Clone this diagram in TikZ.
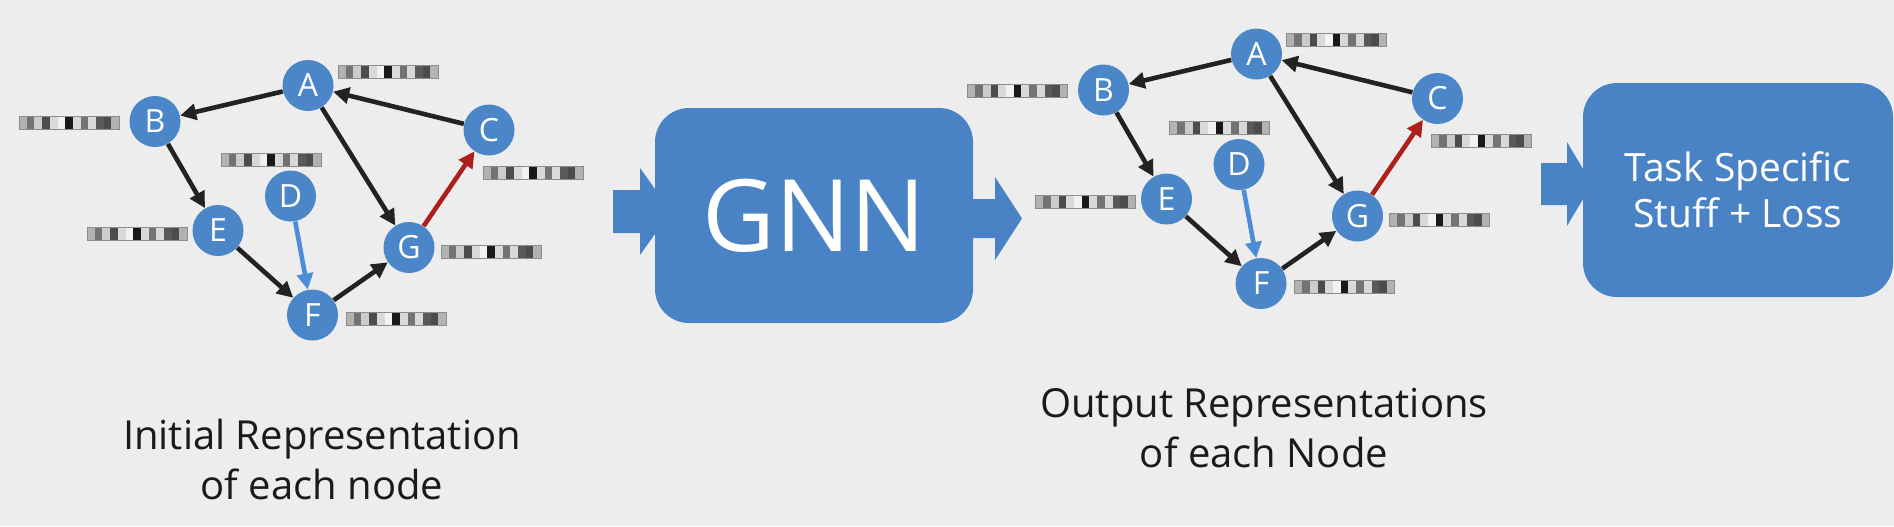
\documentclass[tikz,border=0pt]{standalone}
\usepackage{fontspec}
\setmainfont{Open Sans}
\usetikzlibrary{arrows.meta}
\definecolor{bg}{HTML}{EDEDED}
\definecolor{nodeblue}{HTML}{4A86C8}
\definecolor{boxblue}{HTML}{4A82C6}
\definecolor{edgeblue}{HTML}{4B8DD6}
\definecolor{edgered}{HTML}{AC1F1A}
\definecolor{edgeblack}{HTML}{222222}
\definecolor{captext}{HTML}{1A1A1A}
\tikzset{
  gnode/.style={circle, fill=nodeblue, text=white, minimum size=25.5pt, inner sep=0pt, font=\fontsize{16}{16}\selectfont},
  edge/.style={line width=2.3pt, draw=edgeblack, -{Triangle[length=8pt,width=8pt]}},
  blueedge/.style={edge, draw=edgeblue},
  rededge/.style={edge, draw=edgered},
  blockbox/.style={rectangle, rounded corners=17pt, fill=boxblue, text=white, inner sep=0pt, align=center},
  blockarrow/.style={fill=boxblue},
  caption/.style={align=center, font=\fontsize{20}{25}\selectfont, text=captext},
  pics/fvec/.style={code={
    \foreach \g [count=\i from 0] in {30,55,20,70,15,5,90,15,55,15,65,70,30}
      {\fill[black!\g] (\i*7.7,0) rectangle ++(7.7,13);}
    \draw[black!45, line width=0.5pt] (0,0) rectangle (100.1,13);
  }}
}
\newcommand\gnngraph[1]{%
  \node[gnode] (#1A) at (308,85.5) {A};
  \node[gnode] (#1B) at (155,121.5) {B};
  \node[gnode] (#1C) at (489,130) {C};
  \node[gnode] (#1D) at (290.5,196) {D};
  \node[gnode] (#1E) at (218,230.5) {E};
  \node[gnode] (#1F) at (312.5,315) {F};
  \node[gnode] (#1G) at (409,247.5) {G};
  \draw[edge] (#1A) -- (#1B);
  \draw[edge] (#1C) -- (#1A);
  \draw[edge] (#1B) -- (#1E);
  \draw[edge] (#1A) -- (#1G);
  \draw[edge] (#1E) -- (#1F);
  \draw[edge] (#1F) -- (#1G);
  \draw[blueedge] (#1D) -- (#1F);
  \draw[rededge] (#1G) -- (#1C);
  \pic at (338,65) {fvec};
  \pic at (19,116) {fvec};
  \pic at (221,153) {fvec};
  \pic at (483,166) {fvec};
  \pic at (87,227) {fvec};
  \pic at (441,245) {fvec};
  \pic at (346,312) {fvec};
}
\begin{document}
\begin{tikzpicture}[x=0.5pt,y=-0.5pt]
  \fill[bg] (0,0) rectangle (1894,526);
  \useasboundingbox (0,0) rectangle (1894,526);

  % block arrows (behind boxes)
  \fill[blockarrow] (613,190) -- (640,190) -- (640,168) -- (671,211.5) -- (640,255) -- (640,233) -- (613,233) -- cycle;
  \fill[blockarrow] (960,199) -- (995,199) -- (995,177) -- (1022,218.5) -- (995,260) -- (995,238) -- (960,238) -- cycle;
  \fill[blockarrow] (1541,163) -- (1567,163) -- (1567,142) -- (1592,184) -- (1567,226) -- (1567,205) -- (1541,205) -- cycle;

  \node[blockbox, minimum width=159pt, minimum height=107.5pt, font=\fontsize{50}{50}\selectfont] (gnn) at (814,215.5) {GNN};
  \node[blockbox, minimum width=155pt, minimum height=107pt, font=\fontsize{19.5}{23}\selectfont] (task) at (1738,190) {Task Specific\\Stuff + Loss};

  \gnngraph{l}
  \begin{scope}[shift={(948.5,-31.5)}]
    \gnngraph{r}
  \end{scope}

  \node[caption] (cap1) at (322,459) {Initial Representation\\of each node};
  \node[caption] (cap2) at (1264,428) {Output Representations\\of each Node};
\end{tikzpicture}
\end{document}
